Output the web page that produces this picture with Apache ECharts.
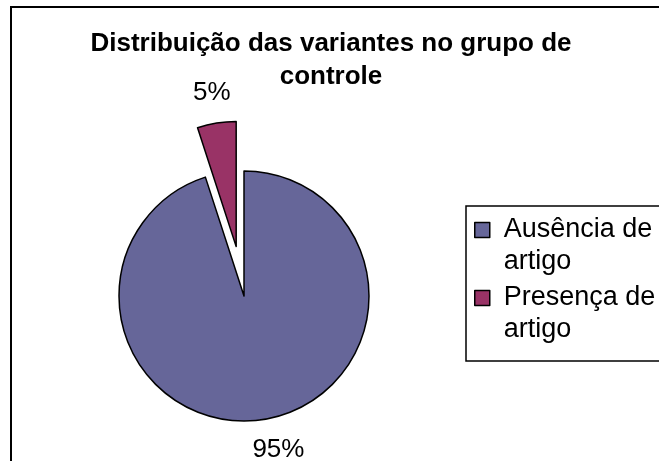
<!DOCTYPE html>
<html>
<head>
    <meta charset="utf-8">
    <title>Distribuição das variantes no grupo de controle</title>
    <script type="text/javascript" src="https://cdn.jsdelivr.net/npm/echarts@6/dist/echarts.min.js"></script>
    <style>
        html, body { margin: 0; padding: 0; background: #fff; }
        #container { width: 659px; height: 461px; }
    </style>
</head>
<body>
<div id="container"></div>
<script type="text/javascript">
    // dados do grafico
    var categorias = ['Ausência de artigo', 'Presença de artigo'];
    var valores = [95, 5];
    var cores = ['#666699', '#993366'];
    var destacado = [false, true];

    var dom = document.getElementById('container');
    var myChart = echarts.init(dom, null, {renderer: 'canvas'});

    var dados = [];
    for (var i = 0; i < categorias.length; i++) {
        dados.push({
            name: categorias[i],
            value: valores[i],
            selected: destacado[i],
            itemStyle: {color: cores[i]}
        });
    }

    var fonte = 'Liberation Sans, Arial, Helvetica, sans-serif';

    var option = {
        animation: false,
        backgroundColor: '#fff',
        title: {
            text: 'Distribuição das variantes no grupo de\ncontrole',
            left: 326,
            top: 22,
            textAlign: 'center',
            textStyle: {
                fontFamily: fonte,
                fontSize: 26,
                fontWeight: 'bold',
                color: '#000',
                lineHeight: 33
            }
        },
        legend: {
            orient: 'vertical',
            left: 474,
            top: 182,
            padding: 0,
            itemGap: -28,
            itemWidth: 15,
            itemHeight: 15,
            icon: 'rect',
            selectedMode: false,
            itemStyle: {borderColor: '#000', borderWidth: 1.5},
            // linha vazia em cima para o quadrado ficar na altura da 1a linha
            formatter: function (name) {
                return ' \n' + name.replace(' artigo', '\nartigo');
            },
            textStyle: {
                fontFamily: fonte,
                fontSize: 27,
                lineHeight: 32,
                color: '#000',
                padding: [0, 0, 0, 9]
            },
            data: categorias
        },
        graphic: [
            {
                type: 'rect',
                z: -1,
                shape: {x: 11, y: 7, width: 700, height: 520},
                style: {fill: 'none', stroke: '#000', lineWidth: 2}
            },
            {
                type: 'rect',
                z: -1,
                shape: {x: 466, y: 206, width: 300, height: 155},
                style: {fill: 'none', stroke: '#000', lineWidth: 1.5}
            }
        ],
        series: [
            {
                type: 'pie',
                center: [244, 296],
                radius: 125,
                startAngle: 90,
                clockwise: true,
                selectedMode: 'single',
                selectedOffset: 50,
                silent: true,
                emphasis: {disabled: true},
                itemStyle: {borderColor: '#000', borderWidth: 1.5},
                label: {
                    show: true,
                    position: 'outside',
                    formatter: '{d}%',
                    fontFamily: fonte,
                    fontSize: 26,
                    color: '#000',
                    distanceToLabelLine: 5
                },
                labelLine: {show: false, length: 31, length2: 0},
                labelLayout: function () {
                    return {align: 'center', dx: 5};
                },
                data: dados
            }
        ]
    };

    if (option && typeof option === 'object') {
        myChart.setOption(option);
    }

    window.addEventListener('resize', myChart.resize);
</script>
</body>
</html>
